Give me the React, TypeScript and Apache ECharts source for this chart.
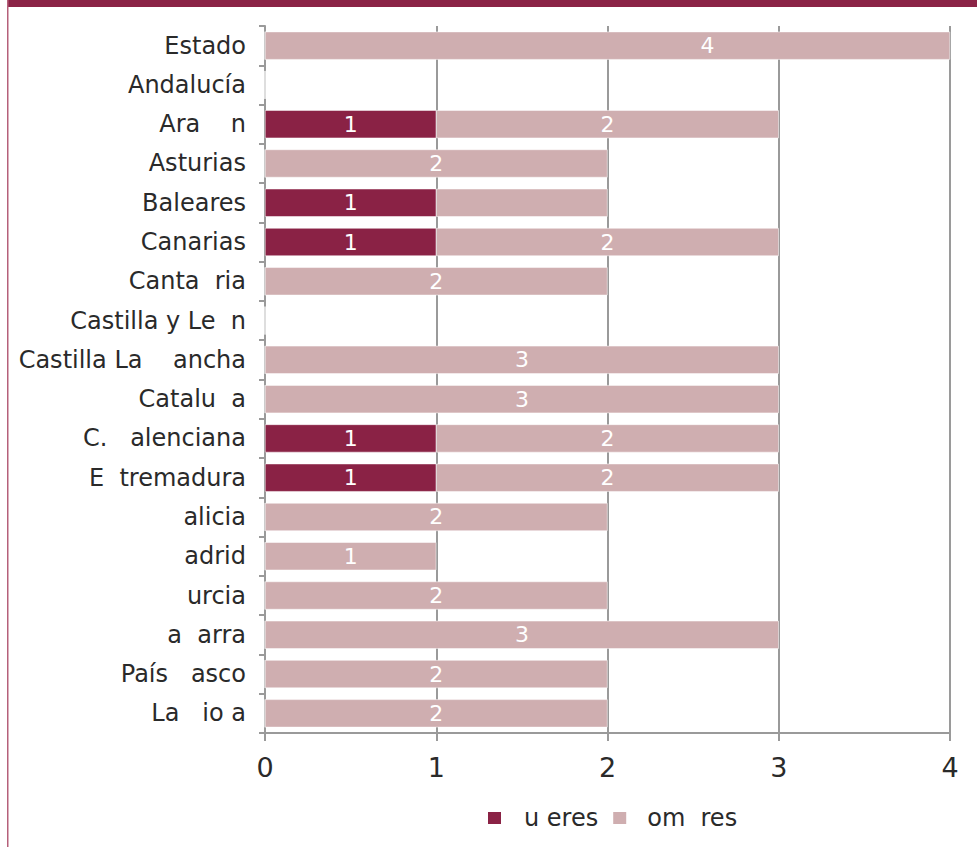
import React, { useEffect, useRef } from "react";
import * as echarts from "echarts";

const categories = [
  "Estado",
  "Andalucía",
  "Ara    n",
  "Asturias",
  "Baleares",
  "Canarias",
  "Canta  ria",
  "Castilla y Le  n",
  "Castilla La    ancha",
  "Catalu  a",
  "C.   alenciana",
  "E  tremadura",
  "alicia",
  "adrid",
  "urcia",
  "a  arra",
  "País   asco",
  "La   io a",
];
const mujeres = [0, 0, 1, 0, 1, 1, 0, 0, 0, 0, 1, 1, 0, 0, 0, 0, 0, 0];
const hombres = [4, 0, 2, 2, 1, 2, 2, 0, 3, 3, 2, 2, 2, 1, 2, 3, 2, 2];
const seriesNames = ["u eres", "om  res"];
const xTicks = [0, 1, 2, 3, 4];

const FONT = "DejaVu Sans";
const C_MUJ = "#8a2245";
const C_HOM = "#cfaeb0";
const GRID = "#9a9a9a";
const TXT = "#2a2a2a";

export default function App() {
  const ref = useRef<HTMLDivElement>(null);
  useEffect(() => {
    if (!ref.current) return;
    const chart = echarts.init(ref.current, null, { renderer: "svg" });
    const mkData = (vals: number[], isHom: boolean) =>
      vals.map((v, i) => {
        const item: any = { value: v };
        if (v === 0) item.label = { show: false };
        if (isHom && categories[i] === "Baleares") item.label = { show: false };
        if (isHom && i === 0) item.label = { offset: [100, 0] };
        return item;
      });
    chart.setOption({
      animation: false,
      backgroundColor: "#ffffff",
      textStyle: { fontFamily: FONT },
      graphic: [
        { type: "rect", shape: { x: 7, y: 0, width: 970, height: 7 }, style: { fill: "#8b2346" } },
        { type: "rect", shape: { x: 7, y: 0, width: 1.5, height: 847 }, style: { fill: "#b5607a" } },
      ],
      grid: { left: 265, right: 27, top: 26, bottom: 114, containLabel: false },
      legend: {
        left: 486,
        top: 806,
        padding: 0,
        icon: "rect",
        itemWidth: 15,
        itemHeight: 14,
        itemGap: 13,
        textStyle: { fontFamily: FONT, fontSize: 24, color: TXT, lineHeight: 24 },
        data: [
          { name: seriesNames[0], textStyle: { padding: [0, 0, 0, 17] } },
          { name: seriesNames[1], textStyle: { padding: [0, 0, 0, 15] } },
        ],
      },
      xAxis: {
        type: "value",
        min: xTicks[0],
        max: xTicks[xTicks.length - 1],
        interval: 1,
        axisLine: { show: true, lineStyle: { color: GRID, width: 2 } },
        axisTick: { show: true, length: 8, lineStyle: { color: GRID, width: 2 } },
        axisLabel: { fontFamily: FONT, fontSize: 27, color: TXT, margin: 21 },
        splitLine: { show: true, lineStyle: { color: GRID, width: 2 } },
      },
      yAxis: {
        type: "category",
        inverse: true,
        data: categories,
        axisLine: { show: true, lineStyle: { color: GRID, width: 2 } },
        axisTick: { show: true, length: 6, lineStyle: { color: GRID, width: 2 } },
        axisLabel: { fontFamily: FONT, fontSize: 24, color: TXT, margin: 19 },
      },
      series: [
        {
          name: seriesNames[0],
          type: "bar",
          stack: "t",
          barWidth: 28,
          itemStyle: { color: C_MUJ, borderColor: "#ffffff", borderWidth: 0.5 },
          label: { show: true, position: "inside", color: "#ffffff", fontFamily: FONT, fontSize: 22 },
          data: mkData(mujeres, false),
        },
        {
          name: seriesNames[1],
          type: "bar",
          stack: "t",
          barWidth: 28,
          itemStyle: { color: C_HOM, borderColor: "#ffffff", borderWidth: 0.5 },
          label: { show: true, position: "inside", color: "#ffffff", fontFamily: FONT, fontSize: 22 },
          data: mkData(hombres, true),
        },
      ],
    });
    return () => chart.dispose();
  }, []);
  return (
    <div
      ref={ref}
      style={{ position: "absolute", left: 0, top: 0, width: 977, height: 847, background: "#fff" }}
    />
  );
}
